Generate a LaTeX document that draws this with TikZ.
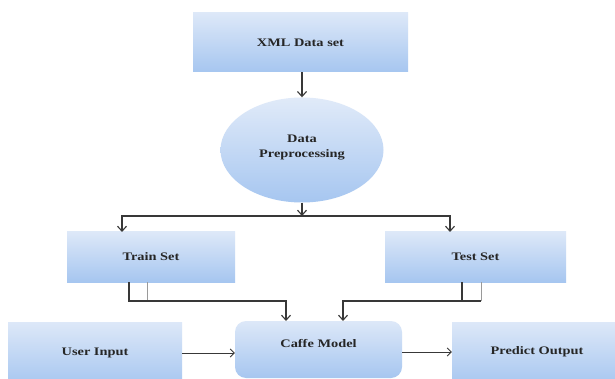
\documentclass[tikz,border=0pt]{standalone}
\usepackage{fontspec}
\setmainfont{Liberation Serif}
\usetikzlibrary{shapes.geometric,arrows.meta}
\newcommand\sx[1]{\scalebox{1.25}[1]{#1}}
\definecolor{bluetop}{HTML}{DDE8F8}
\definecolor{bluebot}{HTML}{A6C6F0}
\definecolor{lndark}{HTML}{383838}
\definecolor{lngray}{HTML}{9A9A9A}
\tikzset{
  box/.style={rectangle, draw=none, top color=bluetop, bottom color=bluebot, inner sep=0pt},
  oval/.style={ellipse, draw=none, top color=bluetop!90!white, bottom color=bluebot, inner sep=0pt, minimum width=163pt, minimum height=105pt},
  txt/.style={font=\bfseries\fontsize{11.5}{14}\selectfont, text=black!85, align=center},
  conn/.style={draw=lndark, line width=1.1pt, -{Straight Barb[length=5pt,width=9pt,line width=1.1pt]}},
  plain/.style={draw=lndark, line width=1.1pt},
  grayln/.style={draw=lngray, line width=1pt},
  thin/.style={draw=lndark, line width=0.7pt, -{Straight Barb[length=4pt,width=8pt,line width=0.8pt]}}
}
\begin{document}
\begin{tikzpicture}[x=1pt,y=1pt]
\useasboundingbox (0,0) rectangle (615,-379);
\fill[white] (0,0) rectangle (615,-379);
\begin{scope}
\clip (0,0) rectangle (615,-379);
% nodes
\node[box, minimum width=215pt, minimum height=59pt] (xml) at (300.5,-42.5) {};
\node[txt] (xmlT) at (xml.center) {\sx{XML Data set}};
\node[oval] (pre) at (302,-150) {};
\node[txt] (preT) at (302,-148) {\sx{Data}\\[1pt]\sx{Preprocessing}};
\node[box, minimum width=168pt, minimum height=50pt] (train) at (151,-257) {};
\node[txt] (trainT) at (train.center) {\sx{Train Set}};
\node[box, minimum width=181pt, minimum height=50pt] (test) at (475.5,-257) {};
\node[txt] (testT) at (test.center) {\sx{Test Set}};
\node[box, rounded corners=11pt, minimum width=167pt, minimum height=57pt] (caffe) at (318.5,-349.5) {};
\node[txt] (caffeT) at (318.5,-344) {\sx{Caffe Model}};
\node[box, minimum width=174pt, minimum height=64pt] (user) at (95,-354) {};
\node[txt] (userT) at (95,-353) {\sx{User Input}};
\node[box, minimum width=178pt, minimum height=64pt] (pred) at (541,-354) {};
\node[txt] (predT) at (537,-352) {\sx{Predict Output}};
% coordinates
\coordinate (split) at (302,-216);
\coordinate (trainIn) at (122,-232);
\coordinate (testIn) at (450,-232);
\coordinate (trA) at (129,-282);
\coordinate (trB) at (147,-282);
\coordinate (trJ) at (129,-301);
\coordinate (trG) at (147,-301);
\coordinate (caIn1) at (286,-321);
\coordinate (teA) at (462,-282);
\coordinate (teB) at (481,-282);
\coordinate (teJ) at (462,-301);
\coordinate (teG) at (481,-301);
\coordinate (caIn2) at (343,-321);
% connectors
\draw[conn] (xml.south -| split) -- (pre.north -| split);
\draw[conn] (pre.south -| split) -- (split);
\draw[conn] (split) -| (trainIn);
\draw[conn] (split) -| (testIn);
\draw[grayln] (trB) -- (trG);
\draw[conn] (trA) -- (trJ) -| (caIn1);
\draw[plain] (teA) -- (teJ);
\draw[grayln] (teB) -- (teG);
\draw[conn] (teG) -| (caIn2);
\draw[thin] (user.east |- 0,-353) -- (caffe.west |- 0,-353);
\draw[thin] (caffe.east |- 0,-352) -- (pred.west |- 0,-352);
\end{scope}
\end{tikzpicture}
\end{document}
